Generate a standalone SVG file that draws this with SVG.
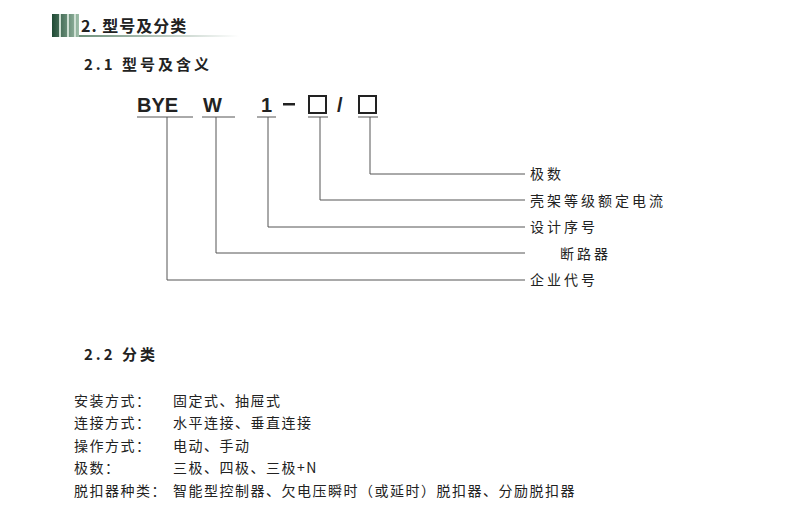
<svg xmlns="http://www.w3.org/2000/svg" width="791" height="511" viewBox="0 0 791 511">
<style>
.t{font-family:"Noto Sans CJK SC","Noto Sans",sans-serif;font-size:14px;fill:#222;letter-spacing:1.5px}
.lb{letter-spacing:3px}
.h{font-family:"Noto Sans CJK SC",sans-serif;font-size:15px;font-weight:bold;fill:#222;letter-spacing:3px}
.c{font-family:"Liberation Sans",Arial,sans-serif;font-size:20px;font-weight:bold;fill:#222}
.l{stroke:#555;stroke-width:1;fill:none}
</style>
<defs>
<linearGradient id="g" x1="0" x2="1"><stop offset="0" stop-color="#1f4a34"/><stop offset="1" stop-color="#9fbfaa"/></linearGradient>
<linearGradient id="u" x1="0" x2="1"><stop offset="0" stop-color="#6d8f7a"/><stop offset="1" stop-color="#fff"/></linearGradient>
</defs>
<g id="title">
<rect x="52" y="14" width="27" height="23" fill="url(#g)"/>
<rect x="59" y="14" width="2" height="23" fill="#cfe0d4"/>
<rect x="67" y="14" width="2" height="23" fill="#cfe0d4"/>
<rect x="74" y="14" width="2" height="23" fill="#cfe0d4"/>
<rect x="79" y="35" width="160" height="2" fill="url(#u)"/>
<text x="81" y="32" class="h" style="font-size:16px;letter-spacing:1px">2. 型号及分类</text>
</g>
<text x="84" y="70" class="h">2.1 型号及含义</text>
<g id="code">
<text x="137" y="112" class="c">BYE</text>
<text x="203" y="112" class="c">W</text>
<text x="261" y="112" class="c">1</text>
<rect x="283" y="103" width="12" height="2.5" fill="#222"/>
<rect x="309" y="96" width="17" height="17" fill="none" stroke="#222" stroke-width="2"/>
<text x="337" y="112" class="c">/</text>
<rect x="359" y="96" width="17" height="17" fill="none" stroke="#222" stroke-width="2"/>
</g>
<g id="connectors" class="l">
<path d="M137 117H193M202 117H235M257 117H276M308 117H328M358 117H378"/>
<path d="M370 117V174H525"/>
<path d="M320 117V200H525"/>
<path d="M268 117V227H525"/>
<path d="M216 117V253H525"/>
<path d="M167 117V280H525"/>
</g>
<g id="labels" class="t lb">
<text x="530" y="179">极数</text>
<text x="530" y="206">壳架等级额定电流</text>
<text x="530" y="232">设计序号</text>
<text x="560" y="259">断路器</text>
<text x="530" y="285">企业代号</text>
</g>
<text x="84" y="360" class="h">2.2 分类</text>
<g id="cls" class="t">
<text x="74" y="406">安装方式：</text><text x="173" y="406">固定式、抽屉式</text>
<text x="74" y="428">连接方式：</text><text x="173" y="428">水平连接、垂直连接</text>
<text x="74" y="451">操作方式：</text><text x="173" y="451">电动、手动</text>
<text x="74" y="473">极数：</text><text x="173" y="473">三极、四极、三极+N</text>
<text x="74" y="496">脱扣器种类：</text><text x="173" y="496">智能型控制器、欠电压瞬时（或延时）脱扣器、分励脱扣器</text>
</g>
</svg>
